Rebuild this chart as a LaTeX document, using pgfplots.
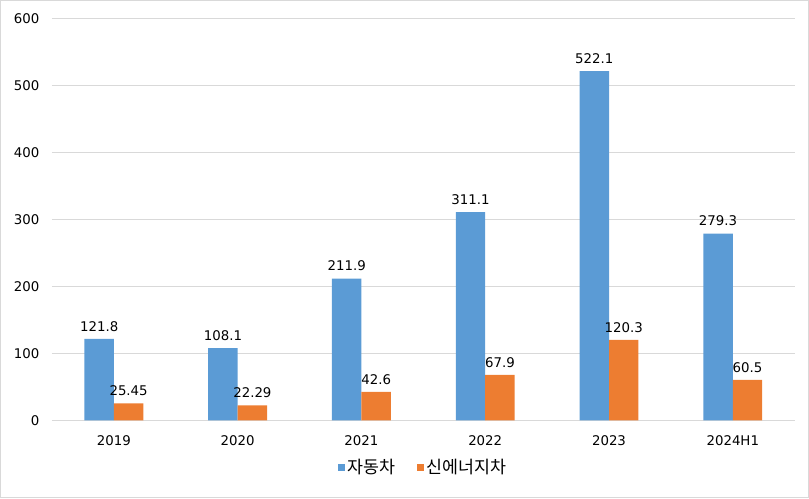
\documentclass[border=0pt]{standalone}
\usepackage{fontspec}
\setmainfont{DejaVu Sans}
\newfontfamily\kr{Noto Sans CJK KR}
\usepackage{pgfplots}
\pgfplotsset{compat=1.18}
\definecolor{cblue}{HTML}{5B9BD5}
\definecolor{corange}{HTML}{ED7D31}
\definecolor{gridc}{HTML}{D9D9D9}
\begin{document}
\fontsize{10pt}{12pt}\selectfont
\begin{tikzpicture}
\useasboundingbox (-39pt,-58.5pt) rectangle (567.75pt,315.25pt);
\draw[gridc, line width=0.75pt] (-38.6pt,-58.1pt) rectangle (567.35pt,314.85pt);
\begin{axis}[
  at={(0,0)}, anchor=south west,
  scale only axis, width=557pt, height=301pt,
  xmin=-0.5, xmax=5.5, ymin=0, ymax=600,
  ybar=0pt, bar width=0.238,
  axis line style={draw=none},
  axis x line*=bottom,
  ytick={0,100,...,600},
  xtick={0,...,5},
  xticklabels={2019,2020,2021,2022,2023,2024H1},
  major tick length=0pt,
  ymajorgrids, grid style={gridc, line width=0.75pt},
  /pgf/number format/assume math mode=true,
  yticklabel style={anchor=east, xshift=-6pt, font=\fontsize{10pt}{12pt}\selectfont},
  xticklabel style={anchor=north, yshift=-8pt, font=\fontsize{10pt}{12pt}\selectfont},
  nodes near coords, point meta=explicit symbolic,
  every node near coord/.append style={font=\fontsize{10pt}{12pt}\selectfont, text=black, inner sep=5.5pt},
  legend style={at={(0.5,-0.117)}, anchor=center, draw=none, legend columns=2,
    font=\fontsize{13pt}{15pt}\kr\selectfont,
    /tikz/every odd column/.append style={column sep=0pt},
    /tikz/every even column/.append style={column sep=14pt}},
  legend image code/.code={\fill[#1] (3pt,-2.7pt) rectangle (8.4pt,2.7pt);},
]
\draw[gridc, line width=0.75pt] (axis cs:-0.5,0) -- (axis cs:5.5,0);
\addplot[fill=cblue, draw=none] coordinates {
  (0,121.8) [121.8] (1,108.1) [108.1] (2,211.9) [211.9]
  (3,311.1) [311.1] (4,522.1) [522.1] (5,279.3) [279.3]};
\addplot[fill=corange, draw=none] coordinates {
  (0,25.45) [25.45] (1,22.29) [22.29] (2,42.6) [42.6]
  (3,67.9) [67.9] (4,120.3) [120.3] (5,60.5) [60.5]};
\legend{자동차,신에너지차}
\end{axis}
\end{tikzpicture}
\end{document}
